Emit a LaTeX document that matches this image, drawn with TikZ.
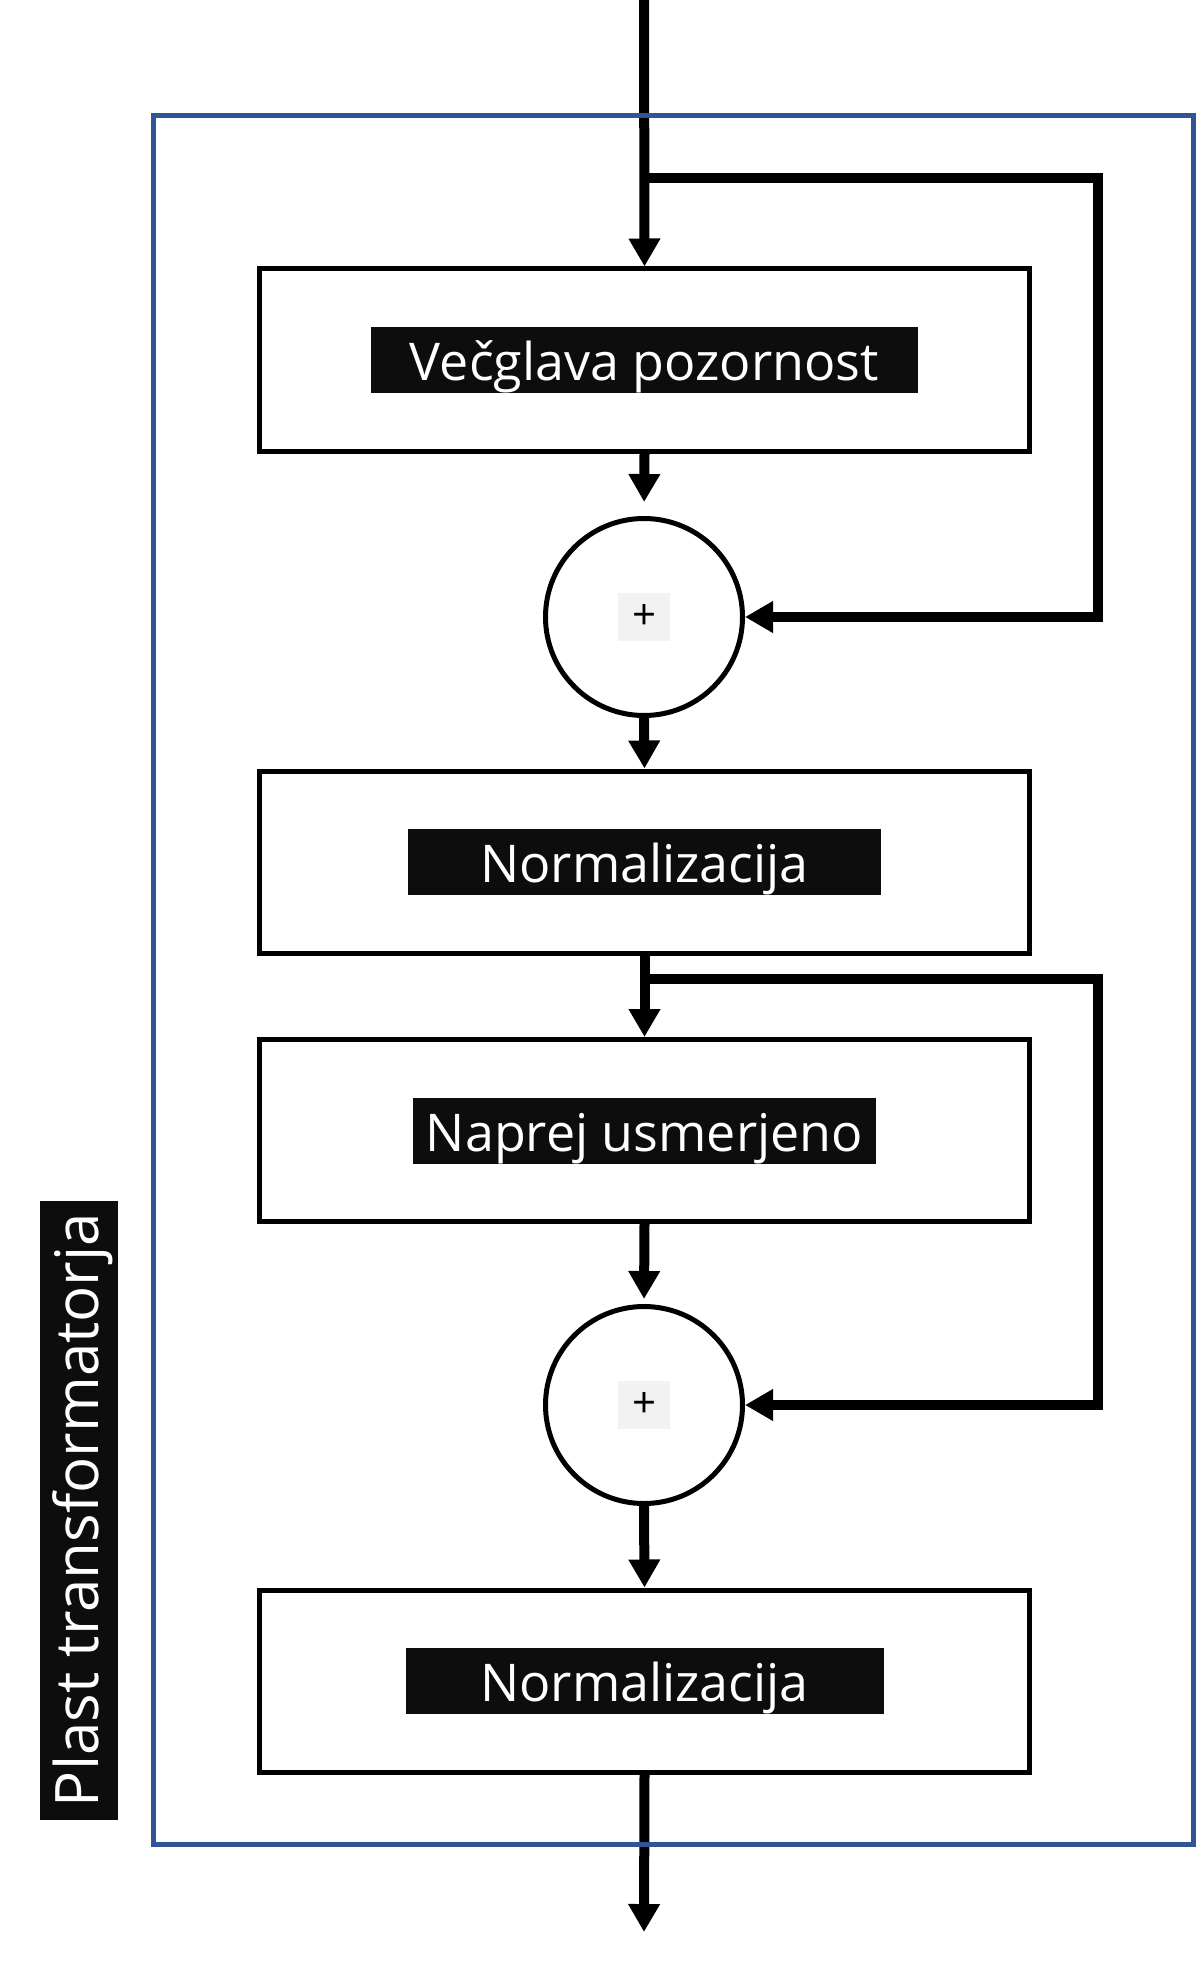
\documentclass[tikz,border=0pt]{standalone}
\usepackage{fontspec}
\setmainfont{Open Sans}
\usetikzlibrary{arrows.meta}

\definecolor{frameblue}{HTML}{2F5597}
\definecolor{tagblack}{HTML}{0D0D0D}
\definecolor{plusgrey}{HTML}{F2F2F2}

\begin{document}
\begin{tikzpicture}[x=0.5pt, y=-0.5pt,
  block/.style = {draw, line width=2.5pt, minimum width=385pt, minimum height=91pt, inner sep=0pt},
  tag/.style = {fill=tagblack, text=white, font=\fontsize{26}{30}\selectfont, minimum height=33pt,
                inner sep=0pt, text height=24pt, text depth=3.5pt},
  sum/.style = {draw, circle, line width=2.5pt, minimum size=98.5pt, inner sep=0pt},
  plus/.style = {fill=plusgrey, minimum width=26pt, minimum height=24pt, inner sep=0pt,
                 font=\fontsize{21}{24}\selectfont},
  flow/.style = {line width=5pt, -{Triangle[length=14pt, width=15pt]}}]

\useasboundingbox (0, 0) rectangle (1196, 1963);

\coordinate (in) at (644, 0);
\coordinate (out) at (644, 1932);

\node[block] (attn) at (644.5, 360) {};
\node[tag, minimum width=273.5pt] (attntag) at (attn) {Večglava pozornost};

\node[sum] (add1) at (644, 617) {};
\node[plus] (plus1) at (add1) {+};

\node[block] (norm1) at (644.5, 862) {};
\node[tag, minimum width=236.5pt] (norm1tag) at (norm1) {Normalizacija};

\node[block] (ff) at (644.5, 1130.5) {};
\node[tag, minimum width=231.5pt] (fftag) at (ff) {Naprej usmerjeno};

\node[sum] (add2) at (644, 1405) {};
\node[plus] (plus2) at (add2) {+};

\node[block] (norm2) at (644.5, 1681) {};
\node[tag, minimum width=239pt] (norm2tag) at (norm2) {Normalizacija};

\node[fill=tagblack, text=white, rotate=90, font=\fontsize{30}{35}\selectfont,
      minimum width=309.5pt, minimum height=39pt, inner sep=0pt,
      text height=22.5pt, text depth=3pt] (layer) at (79, 1510) {Plast transformatorja};

\draw[flow] (in) -- (attn.north);
\draw[flow, shorten >=7pt] (attn.south) -- (add1.north);
\draw[flow] (add1.south) -- (norm1.north);
\draw[flow] (norm1.south) -- (ff.north);
\draw[flow, shorten >=2.5pt] (ff.south) -- (add2.north);
\draw[flow] (add2.south) -- (norm2.north);
\draw[flow] (norm2.south) -- (out);

\coordinate (s1) at (644, 178);
\coordinate (r1) at (1098, 178);
\draw[flow] (s1) -- (r1) |- (add1.east);

\coordinate (s2) at (644, 979);
\coordinate (r2) at (1098, 979);
\draw[flow] (s2) -- (r2) |- (add2.east);

\draw[frameblue, line width=2.5pt] (153, 115.5) rectangle (1193.5, 1844.5);

\end{tikzpicture}
\end{document}
